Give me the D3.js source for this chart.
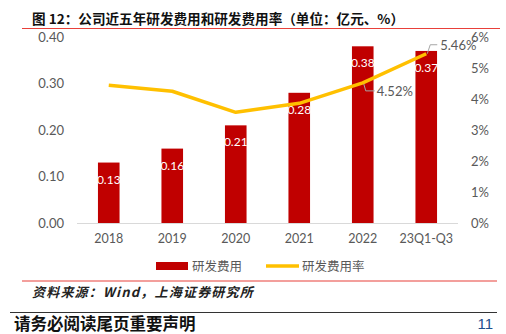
<!DOCTYPE html>
<html><head><meta charset="utf-8">
<script src="https://cdn.jsdelivr.net/npm/d3@7/dist/d3.min.js"></script>
<style>body{margin:0;background:#fff}svg{display:block}</style>
</head><body>
<svg id="c" width="506" height="334"></svg>
<script>
const categories = ["2018","2019","2020","2021","2022","23Q1-Q3"];
const expense = [0.13,0.16,0.21,0.28,0.38,0.37];
const expenseRate = [4.44,4.25,3.57,3.86,4.52,5.46];
const leftTicks = [0,0.1,0.2,0.3,0.4];
const rightTicks = [0,1,2,3,4,5,6];
const title = "图 12：公司近五年研发费用和研发费用率（单位：亿元、%）";
const source = "资料来源：Wind，上海证券研究所";
const footer = "请务必阅读尾页重要声明";

const svg = d3.select("#c");
const numFont = "Lato, 'Liberation Sans', sans-serif";
const cjk = "'Noto Sans CJK SC', sans-serif";
const grey = "#595959";

const x = d3.scaleBand().domain(categories).range([77, 458]).paddingInner(0.66).paddingOuter(0.33);
const yL = d3.scaleLinear().domain([0,0.4]).range([223,37]);
const yR = d3.scaleLinear().domain([0,6]).range([223,37]);

// title
svg.append("text").attr("x",32).attr("y",24).attr("font-family",cjk).attr("font-weight","bold")
  .attr("font-size",13.6).attr("fill","#111").text(title);
svg.append("line").attr("x1",22).attr("x2",500).attr("y1",28.5).attr("y2",28.5).attr("stroke","#e8403a").attr("stroke-width",1.2);

// left axis
const gl = svg.append("g").attr("transform","translate(64,0)")
  .call(d3.axisLeft(yL).tickValues(leftTicks).tickFormat(d3.format(".2f")).tickSize(0).tickPadding(0));
gl.select(".domain").remove();
gl.selectAll("text").attr("font-family",numFont).attr("font-size",13).attr("fill",grey);

// right axis
const gr = svg.append("g").attr("transform","translate(471,0)")
  .call(d3.axisRight(yR).tickValues(rightTicks).tickFormat(d=>d+"%").tickSize(0).tickPadding(0));
gr.select(".domain").remove();
gr.selectAll("text").attr("font-family",numFont).attr("font-size",13).attr("fill",grey);

// bars
svg.append("g").selectAll("rect").data(expense).join("rect")
  .attr("x",(d,i)=>x(categories[i])).attr("width",x.bandwidth())
  .attr("y",d=>yL(d)).attr("height",d=>yL(0)-yL(d)).attr("fill","#c00000");
svg.append("g").selectAll("text").data(expense).join("text")
  .attr("x",(d,i)=>x(categories[i])+x.bandwidth()/2).attr("y",d=>yL(d)+21)
  .attr("text-anchor","middle").attr("font-family",numFont).attr("font-size",12).attr("fill","#fff")
  .text(d=>d.toFixed(2));

// baseline
svg.append("line").attr("x1",77).attr("x2",458).attr("y1",223.5).attr("y2",223.5).attr("stroke","#d9d9d9").attr("stroke-width",1);

// x axis
const gx = svg.append("g").attr("transform","translate(0,232)")
  .call(d3.axisBottom(x).tickSize(0).tickPadding(0));
gx.select(".domain").remove();
gx.selectAll("text").attr("font-family",numFont).attr("font-size",12.5).attr("fill",grey).attr("dy","0.9em");

// line
const cx = i => x(categories[i]) + x.bandwidth()/2;
svg.append("path").datum(expenseRate)
  .attr("d", d3.line().x((d,i)=>cx(i)).y(d=>yR(d)))
  .attr("fill","none").attr("stroke","#ffc000").attr("stroke-width",3.5).attr("stroke-linejoin","round");

// line labels with leaders
const i4 = 4, i5 = 5;
const p4 = [cx(i4), yR(expenseRate[i4])];
svg.append("path").attr("d",`M${p4[0]+1},${p4[1]+1} L${p4[0]+3},${p4[1]+8} L${p4[0]+12},${p4[1]+8}`)
  .attr("fill","none").attr("stroke","#a6a6a6").attr("stroke-width",1);
svg.append("text").attr("x",p4[0]+14).attr("y",p4[1]+13).attr("font-family",numFont).attr("font-size",13).attr("fill",grey)
  .text(expenseRate[i4].toFixed(2)+"%");
const p5 = [cx(i5), yR(expenseRate[i5])];
svg.append("path").attr("d",`M${p5[0]+1},${p5[1]} L${p5[0]+4},${p5[1]-9} L${p5[0]+11},${p5[1]-9}`)
  .attr("fill","none").attr("stroke","#a6a6a6").attr("stroke-width",1);
svg.append("text").attr("x",p5[0]+14).attr("y",p5[1]-4).attr("font-family",numFont).attr("font-size",13).attr("fill",grey)
  .text(expenseRate[i5].toFixed(2)+"%");

// legend
svg.append("rect").attr("x",156).attr("y",262).attr("width",32).attr("height",8).attr("fill","#c00000");
svg.append("text").attr("x",192).attr("y",271).attr("font-family",cjk).attr("font-size",12.5).attr("fill",grey).text("研发费用");
svg.append("line").attr("x1",266).attr("x2",299).attr("y1",266).attr("y2",266).attr("stroke","#ffc000").attr("stroke-width",3.5);
svg.append("text").attr("x",302).attr("y",271).attr("font-family",cjk).attr("font-size",12.5).attr("fill",grey).text("研发费用率");

// source
svg.append("line").attr("x1",22).attr("x2",497).attr("y1",281).attr("y2",281).attr("stroke","#e8403a").attr("stroke-width",1.2);
svg.append("text").attr("x",32).attr("y",296.5).attr("font-family",cjk).attr("font-weight","bold").attr("font-style","italic")
  .attr("font-size",13).attr("letter-spacing",1.2).attr("fill","#222").text(source);

// footer
svg.append("line").attr("x1",10).attr("x2",497).attr("y1",312.5).attr("y2",312.5).attr("stroke","#333").attr("stroke-width",1.2);
svg.append("text").attr("x",14).attr("y",329.5).attr("font-family",cjk).attr("font-weight","bold")
  .attr("font-size",16.5).attr("fill","#111").text(footer);
svg.append("text").attr("x",493).attr("y",329).attr("text-anchor","end").attr("font-family","'Liberation Sans', sans-serif")
  .attr("font-size",15).attr("fill","#1f4e8c").text("11");
</script>
</body></html>
